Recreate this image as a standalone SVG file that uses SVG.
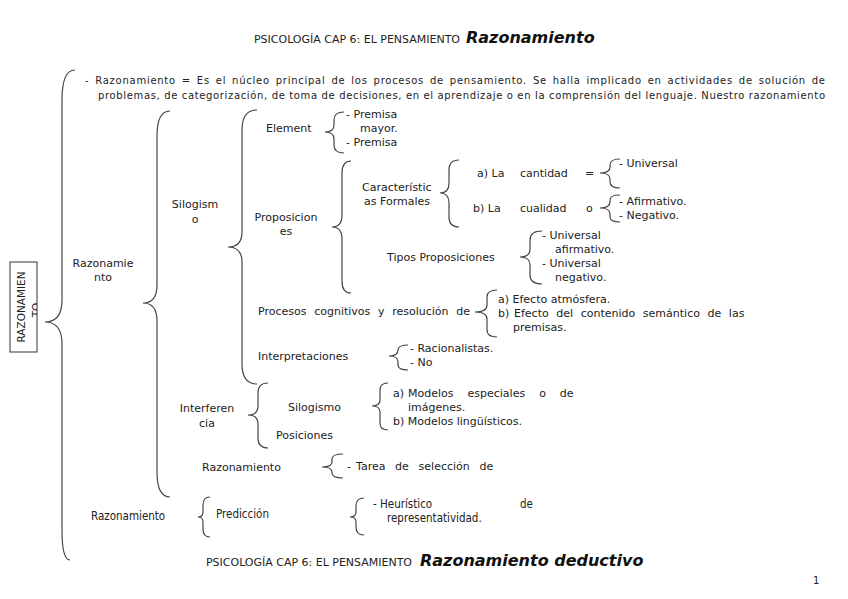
<svg xmlns="http://www.w3.org/2000/svg" width="848" height="599" viewBox="0 0 848 599">
<style>
text{font-family:"DejaVu Sans","Liberation Sans",sans-serif;font-size:11px;fill:#222}
.c{font-family:"DejaVu Sans Condensed","DejaVu Sans",sans-serif;font-size:11.5px}
.t{font-family:"DejaVu Sans Condensed","DejaVu Sans",sans-serif;font-size:10px}
.big{font-family:"DejaVu Sans",sans-serif;font-size:16px;font-weight:bold;font-style:italic;fill:#111}
.p{font-size:10px;word-spacing:2px}
.br{fill:none;stroke:#444;stroke-width:1.2}
</style>
<defs>
<clipPath id="boxclip"><rect x="10" y="262" width="27" height="90"/></clipPath>
</defs>
<rect width="848" height="599" fill="#fff"/>
<g id="header">
<text class="t" x="254" y="43" textLength="206" lengthAdjust="spacingAndGlyphs">PSICOLOGÍA CAP 6: EL PENSAMIENTO</text>
<text class="big" x="466" y="43">Razonamiento</text>
</g>
<g id="footer">
<text class="t" x="206" y="566" textLength="206" lengthAdjust="spacingAndGlyphs">PSICOLOGÍA CAP 6: EL PENSAMIENTO</text>
<text class="big" x="420" y="566">Razonamiento deductivo</text>
<text x="813" y="584" style="font-size:10px">1</text>
</g>
<g id="connectors">
<path class="br" d="M75,70 Q62,70 62,100 L62,300 Q62,322 45,322 Q62,322 62,344 L62,530 Q62,560 70,560"/>
<path class="br" d="M170,111 Q157,111 157,136 L157,285 Q157,303 143,303 Q157,303 157,321 L157,472 Q157,497 170,497"/>
<path class="br" d="M257,110 Q242,110 242,130 L242,232 Q242,247 228,247 Q242,247 242,262 L242,364 Q242,384 257,384"/>
<path class="br" d="M344,112 Q334,112 334,120 L334,125 Q334,132 325,132 Q334,132 334,139 L334,145 Q334,153 344,153"/>
<path class="br" d="M351,161 Q342,161 342,173 L342,215 Q342,227 332,227 Q342,227 342,239 L342,281 Q342,293 351,293"/>
<path class="br" d="M459,160 Q449,160 449,170 L449,183 Q449,193 440,193 Q449,193 449,203 L449,217 Q449,227 459,227"/>
<path class="br" d="M620,159 Q610,159 610,165 L610,167 Q610,173 600,173 Q610,173 610,179 L610,182 Q610,188 620,188"/>
<path class="br" d="M620,195 Q610,195 610,200 L610,202 Q610,208 600,208 Q610,208 610,214 L610,217 Q610,222 620,222"/>
<path class="br" d="M542,231 Q530,231 530,240 L530,249 Q530,257 520,257 Q530,257 530,265 L530,275 Q530,284 542,284"/>
<path class="br" d="M497,290 Q487,290 487,297 L487,305 Q487,312 475,312 Q487,312 487,319 L487,330 Q487,337 497,337"/>
<path class="br" d="M408,345 Q398,345 398,350 Q398,356 389,356 Q398,356 398,362 L398,365 Q398,370 408,370"/>
<path class="br" d="M268,383 Q258,383 258,393 L258,406 Q258,415 248,415 Q258,415 258,424 L258,438 Q258,448 268,448"/>
<path class="br" d="M388,383 Q380,383 380,390 L380,400 Q380,406 372,406 Q380,406 380,412 L380,423 Q380,430 388,430"/>
<path class="br" d="M343,454 Q332,454 332,459 L332,462 Q332,467 322,467 Q332,467 332,472 L332,473 Q332,478 343,478"/>
<path class="br" d="M210,497 Q203,497 203,505 L203,512 Q203,517 198,517 Q203,517 203,522 L203,529 Q203,537 210,537"/>
<path class="br" d="M364,498 Q356,498 356,506 L356,512 Q356,517 350,517 Q356,517 356,522 L356,527 Q356,535 364,535"/>
</g>
<g id="root">
<rect x="10" y="262" width="27" height="90" fill="none" stroke="#333" stroke-width="1"/>
<g clip-path="url(#boxclip)">
<text transform="translate(25,307) rotate(-90)" text-anchor="middle" style="font-size:10.5px">RAZONAMIEN</text>
<text transform="translate(40,310) rotate(-90)" text-anchor="middle" style="font-size:10.5px">TO</text>
</g>
</g>
<g id="definicion">
<text class="p" x="85" y="84" textLength="740" lengthAdjust="spacing">- Razonamiento = Es el núcleo principal de los procesos de pensamiento. Se halla implicado en actividades de solución de</text>
<text class="p" x="98" y="99" textLength="727" lengthAdjust="spacing" style="word-spacing:0">problemas, de categorización, de toma de decisiones, en el aprendizaje o en la comprensión del lenguaje. Nuestro razonamiento</text>
</g>
<g id="razonamiento-deductivo">
<text x="103" y="267" text-anchor="middle">Razonamie</text>
<text x="103" y="281" text-anchor="middle">nto</text>
</g>
<g id="silogismo">
<text x="195" y="208" text-anchor="middle">Silogism</text>
<text x="195" y="223" text-anchor="middle">o</text>
</g>
<g id="elementos">
<text x="266" y="132">Element</text>
<text x="346" y="118">- Premisa</text>
<text x="360" y="132">mayor.</text>
<text x="346" y="146">- Premisa</text>
</g>
<g id="proposiciones">
<text x="286" y="221" text-anchor="middle">Proposicion</text>
<text x="286" y="235" text-anchor="middle">es</text>
</g>
<g id="caracteristicas">
<text x="362" y="191">Característic</text>
<text x="364" y="205">as Formales</text>
<text x="477" y="177">a) La</text>
<text x="520" y="177">cantidad</text>
<text x="585" y="177">=</text>
<text x="619" y="167">- Universal</text>
<text x="473" y="212">b) La</text>
<text x="520" y="212">cualidad</text>
<text x="586" y="212">o</text>
<text x="619" y="205">- Afirmativo.</text>
<text x="619" y="219">- Negativo.</text>
</g>
<g id="tipos">
<text x="387" y="261">Tipos Proposiciones</text>
<text x="542" y="239">- Universal</text>
<text x="555" y="253">afirmativo.</text>
<text x="542" y="267">- Universal</text>
<text x="555" y="281">negativo.</text>
</g>
<g id="procesos">
<text x="258" y="315" style="word-spacing:4.2px">Procesos cognitivos y resolución de</text>
<text x="498" y="303">a) Efecto atmósfera.</text>
<text y="317"><tspan x="498">b)</tspan><tspan x="514" style="word-spacing:4.1px">Efecto del contenido semántico de las</tspan></text>
<text x="513" y="331">premisas.</text>
</g>
<g id="interpretaciones">
<text x="258" y="360">Interpretaciones</text>
<text x="410" y="352">- Racionalistas.</text>
<text x="410" y="366">- No</text>
</g>
<g id="interferencia">
<text x="207" y="412" text-anchor="middle">Interferen</text>
<text x="207" y="427" text-anchor="middle">cia</text>
<text x="288" y="411">Silogismo</text>
<text x="276" y="439">Posiciones</text>
<text y="397"><tspan x="393">a)</tspan><tspan x="408" style="word-spacing:10.5px">Modelos especiales o de</tspan></text>
<text x="408" y="411">imágenes.</text>
<text x="393" y="425">b) Modelos lingüísticos.</text>
</g>
<g id="razonamiento-seleccion">
<text x="202" y="471">Razonamiento</text>
<text y="470"><tspan x="347">-</tspan><tspan x="356" style="word-spacing:6.2px">Tarea de selección de</tspan></text>
</g>
<g id="razonamiento-inductivo">
<text class="c" x="91" y="520">Razonamiento</text>
<text class="c" x="216" y="518">Predicción</text>
<text class="c" x="373" y="508">- Heurístico</text>
<text class="c" x="520" y="508">de</text>
<text class="c" x="387" y="522">representatividad.</text>
</g>
</svg>
